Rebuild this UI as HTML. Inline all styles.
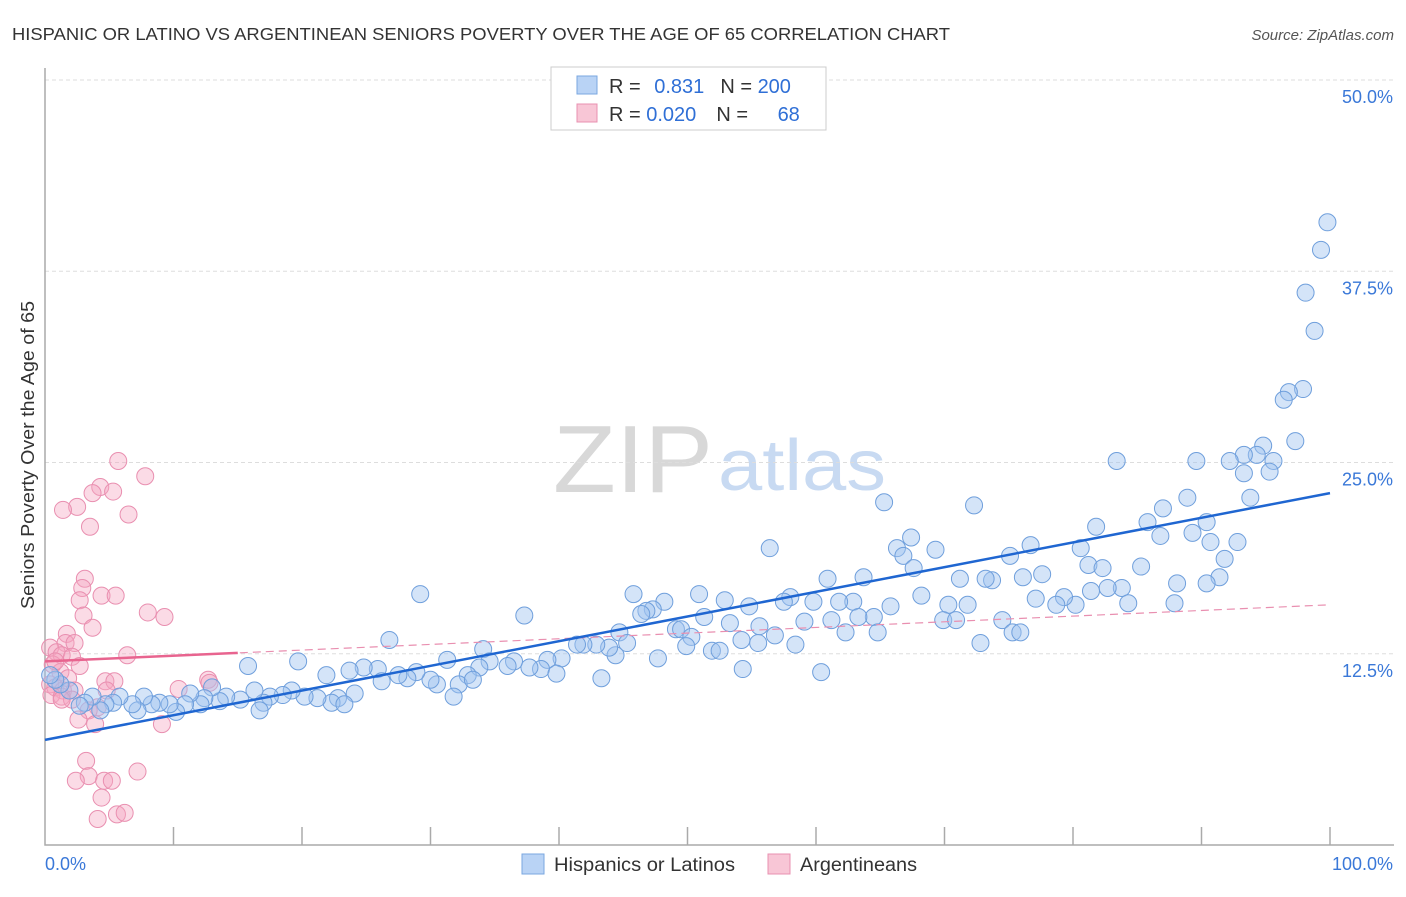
<!DOCTYPE html>
<html><head><meta charset="utf-8"><style>
body{margin:0;background:#fff;font-family:"Liberation Sans",sans-serif;}
svg text{font-family:"Liberation Sans",sans-serif;}
</style></head><body>
<svg id="chart" width="1406" height="892" viewBox="0 0 1406 892">
<text x="12" y="40" font-size="17.5" fill="#333" textLength="938" lengthAdjust="spacingAndGlyphs">HISPANIC OR LATINO VS ARGENTINEAN SENIORS POVERTY OVER THE AGE OF 65 CORRELATION CHART</text>
<text x="1394" y="40" font-size="15" fill="#555" font-style="italic" text-anchor="end">Source: ZipAtlas.com</text>
<g>
<text x="553" y="492" font-family="Liberation Serif" font-size="96" fill="#d8d8d8" textLength="160" lengthAdjust="spacingAndGlyphs">ZIP</text>
<text x="718" y="490" font-size="72" fill="#c8daf2" textLength="168" lengthAdjust="spacingAndGlyphs">atlas</text>
</g>
<g id="grid"></g>
<g id="axes"></g>
<g id="pts"></g>
<g id="trends"></g>
<text transform="translate(34,455) rotate(-90)" font-size="18" fill="#333" text-anchor="middle" textLength="308" lengthAdjust="spacingAndGlyphs">Seniors Poverty Over the Age of 65</text>
<g>
<rect x="551" y="67" width="275" height="63" fill="#fff" stroke="#ccc"/>
<rect x="577" y="76" width="20" height="18" fill="#b9d3f5" stroke="#7aa7e0"/>
<rect x="577" y="104" width="20" height="18" fill="#f8c6d6" stroke="#e890b0"/>
<text x="609" y="93" font-size="20" fill="#333">R = <tspan fill="#2f6fd6" dx="8">0.831</tspan><tspan dx="16">N = </tspan><tspan fill="#2f6fd6">200</tspan></text>
<text x="609" y="121" font-size="20" fill="#333">R = <tspan fill="#2f6fd6">0.020</tspan><tspan dx="20">N = </tspan><tspan fill="#2f6fd6" dx="24">68</tspan></text>
</g>
<g>
<rect x="522" y="854" width="22" height="20" fill="#b9d3f5" stroke="#7aa7e0"/>
<text x="554" y="871" font-size="19" fill="#333" textLength="181" lengthAdjust="spacingAndGlyphs">Hispanics or Latinos</text>
<rect x="768" y="854" width="22" height="20" fill="#f8c6d6" stroke="#e890b0"/>
<text x="800" y="871" font-size="19" fill="#333" textLength="117" lengthAdjust="spacingAndGlyphs">Argentineans</text>
</g>
</svg>
<script>
const yTicks=[12.5,25,37.5,50];
const yTickLabels=["12.5%","25.0%","37.5%","50.0%"];
const xTickLabels=["0.0%","100.0%"];
const blueX=[99.8,99.3,98.1,98.8,97.9,96.8,96.4,97.3,94.8,94.3,95.6,93.3,92.2,95.3,93.3,89.6,83.4,93.8,88.9,90.4,89.3,90.7,92.8,91.8,91.4,90.4,88.1,87.9,86.8,85.8,81.8,80.6,81.2,82.3,85.3,83.8,82.7,81.4,84.3,80.2,79.3,78.7,77.6,76.1,76.7,75.1,77.1,73.7,73.2,72.3,71.2,69.3,67.4,66.3,66.8,67.6,65.3,63.7,60.9,62.9,61.8,59.8,58.0,57.5,56.4,54.8,52.9,50.9,48.2,45.8,47.3,46.8,46.4,37.3,29.2,71.8,70.3,69.9,70.9,68.2,65.8,64.5,63.3,62.3,64.8,61.2,59.1,56.8,55.6,54.2,55.5,53.3,51.3,49.1,49.5,50.3,49.9,51.9,52.5,47.7,44.7,45.3,44.4,43.9,42.9,41.9,41.4,40.2,39.1,38.6,37.7,39.8,36.5,36.0,34.1,34.6,33.8,32.9,32.2,33.3,31.3,30.5,31.8,30.0,43.3,60.4,54.3,58.4,74.5,75.3,72.8,75.9,28.9,28.2,27.5,26.8,25.9,26.2,24.8,23.7,24.1,22.8,21.9,22.3,23.3,21.2,20.2,19.7,19.2,18.5,17.5,17.0,16.3,16.7,15.8,15.2,14.1,13.6,13.0,12.4,12.1,11.3,10.9,10.2,9.7,8.9,8.3,7.7,7.2,6.8,5.8,5.3,4.7,4.3,3.7,3.1,2.7,1.9,1.2,0.8,0.4,87.0];
const blueY=[40.7,38.9,36.1,33.6,29.8,29.6,29.1,26.4,26.1,25.5,25.1,25.5,25.1,24.4,24.3,25.1,25.1,22.7,22.7,21.1,20.4,19.8,19.8,18.7,17.5,17.1,17.1,15.8,20.2,21.1,20.8,19.4,18.3,18.1,18.2,16.8,16.8,16.6,15.8,15.7,16.2,15.7,17.7,17.5,19.6,18.9,16.1,17.3,17.4,22.2,17.4,19.3,20.1,19.4,18.9,18.1,22.4,17.5,17.4,15.9,15.9,15.9,16.2,15.9,19.4,15.6,16.0,16.4,15.9,16.4,15.4,15.3,15.1,15.0,16.4,15.7,15.7,14.7,14.7,16.3,15.6,14.9,14.9,13.9,13.9,14.7,14.6,13.7,14.3,13.4,13.2,14.5,14.9,14.1,14.1,13.6,13.0,12.7,12.7,12.2,13.9,13.2,12.4,12.9,13.1,13.1,13.1,12.2,12.1,11.5,11.6,11.2,12.0,11.7,12.8,12.0,11.6,11.1,10.5,10.8,12.1,10.5,9.7,10.8,10.9,11.3,11.5,13.1,14.7,13.9,13.2,13.9,11.3,10.9,11.1,13.4,11.5,10.7,11.6,11.4,9.9,9.6,11.1,9.3,9.2,9.6,9.7,12.0,10.1,9.8,9.7,9.3,10.1,8.8,11.7,9.5,9.7,9.4,10.3,9.6,9.2,9.9,9.2,8.7,9.2,9.3,9.2,9.7,8.8,9.2,9.7,9.3,9.2,8.8,9.7,9.3,9.1,10.1,10.5,10.8,11.1,22.0];
const pinkX=[5.7,7.8,4.3,3.7,5.3,2.5,1.4,6.5,3.5,3.1,2.9,2.7,4.4,5.5,8.0,9.3,3.0,3.7,1.7,1.6,2.3,0.4,0.9,1.3,2.1,6.4,2.7,0.6,1.2,1.8,0.4,0.8,1.4,2.3,0.5,1.3,2.1,4.7,5.4,4.8,10.4,12.7,12.8,4.1,3.4,3.9,2.6,9.1,3.2,3.4,2.4,4.4,4.6,5.2,7.2,4.1,5.6,6.2,1.3,0.8];
const pinkY=[25.1,24.1,23.4,23.0,23.1,22.1,21.9,21.6,20.8,17.4,16.8,16.0,16.3,16.3,15.2,14.9,15.0,14.2,13.8,13.2,13.2,12.9,12.6,12.4,12.3,12.4,11.7,11.8,11.3,10.9,10.5,10.3,10.1,10.1,9.8,9.7,9.5,10.7,10.7,10.1,10.2,10.8,10.6,9.0,8.8,7.9,8.2,7.9,5.5,4.5,4.2,3.1,4.2,4.2,4.8,1.7,2.0,2.1,9.5,12.0];
const blueTrend=[6.87,23.0];
const pinkTrend=[12.0,15.7];
const pinkSolidEnd=15;

const X0=45,X1=1330,Y0=845,PX=(Y0-80)/50;
const sx=v=>X0+(X1-X0)*v/100, sy=v=>Y0-v*PX;
const NS="http://www.w3.org/2000/svg";
function mk(parent,tag,attrs){const e=document.createElementNS(NS,tag);for(const k in attrs)e.setAttribute(k,attrs[k]);document.getElementById(parent).appendChild(e);return e;}
yTicks.forEach((t,i)=>{
 const g=mk('grid','line',{x1:X0,x2:1394,y1:sy(t),y2:sy(t),stroke:'#ddd','stroke-dasharray':'4,3'});
 
 
 const l=mk('grid','text',{x:1393,y:sy(t)+23,'font-size':18,fill:'#3a78d8','text-anchor':'end'});
 l.textContent=yTickLabels[i];
 
 
});
const ax=mk('axes','path',{d:`M${X0},68 V${Y0} H1394`,stroke:'#aaa',fill:'none','stroke-width':1.5});


for(let i=1;i<=10;i++){const t=mk('axes','line',{x1:sx(i*10),x2:sx(i*10),y1:Y0-18,y2:Y0,stroke:'#aaa','stroke-width':1.5});
 
 }
const xl0=mk('axes','text',{x:45,y:870,'font-size':18,fill:'#3a78d8'});xl0.textContent=xTickLabels[0];


const xl1=mk('axes','text',{x:1393,y:870,'font-size':18,fill:'#3a78d8','text-anchor':'end'});xl1.textContent=xTickLabels[1];


pinkX.forEach((x,i)=>{const c=mk('pts','circle',{cx:sx(x),cy:sy(pinkY[i]),r:8.5,fill:'rgba(245,165,192,0.4)',stroke:'#e98fb0','stroke-width':1});
 
 });
blueX.forEach((x,i)=>{const c=mk('pts','circle',{cx:sx(x),cy:sy(blueY[i]),r:8.5,fill:'rgba(160,196,240,0.45)',stroke:'#6f9fdc','stroke-width':1});
 
 });
const pv=x=>pinkTrend[0]+(pinkTrend[1]-pinkTrend[0])*x/100;
const pd=mk('trends','line',{x1:sx(0),y1:sy(pinkTrend[0]),x2:sx(100),y2:sy(pinkTrend[1]),stroke:'#e98fb0','stroke-width':1.2,'stroke-dasharray':'8,5'});


const ps=mk('trends','line',{x1:sx(0),y1:sy(pinkTrend[0]),x2:sx(pinkSolidEnd),y2:sy(pv(pinkSolidEnd)),stroke:'#e8648f','stroke-width':2.5});


const bt=mk('trends','line',{x1:sx(0),y1:sy(blueTrend[0]),x2:sx(100),y2:sy(blueTrend[1]),stroke:'#1f66d1','stroke-width':2.5});


</script>
</body></html>
